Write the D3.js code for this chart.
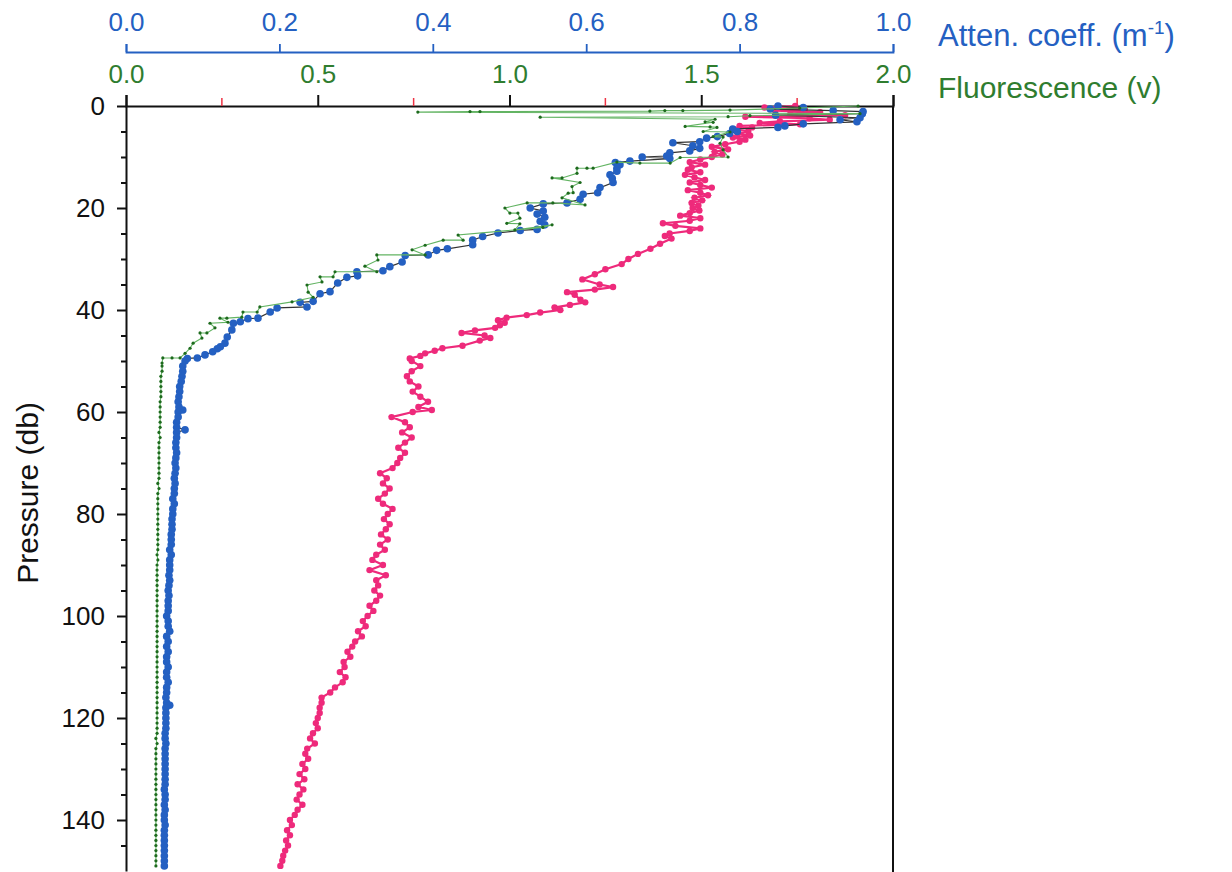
<!DOCTYPE html>
<html>
<head>
<meta charset="utf-8">
<script src="https://cdn.jsdelivr.net/npm/d3@7"></script>
<style>
  html, body { margin: 0; padding: 0; background: #fff; }
  svg { display: block; font-family: "Liberation Sans", Arial, sans-serif; }
</style>
</head>
<body>
<svg id="chart" width="1232" height="872"></svg>
<script>
// ---------------- DATA ----------------
const pressureTicks = [0, 20, 40, 60, 80, 100, 120, 140];
const pressureMinorTicks = [5, 10, 15, 25, 30, 35, 45, 50, 55, 65, 70, 75, 85, 90, 95, 105, 110, 115, 125, 130, 135, 145];
const attenTicks = [0.0, 0.2, 0.4, 0.6, 0.8, 1.0];
const fluorTicks = [0.0, 0.5, 1.0, 1.5, 2.0];
const series3Ticks = [1, 3, 5, 7];

// [pressure (db), attenuation coefficient (1/m)]
const attenProfile = [
[0.0,0.850],[0.3,0.883],[0.6,0.840],[0.9,0.922],[1.1,0.961],[1.5,0.960],[1.8,0.847],[2.3,0.957],[2.7,0.931],[3.1,0.953],
[3.5,0.883],[3.9,0.859],[4.2,0.850],[4.5,0.791],[5.0,0.797],[5.4,0.787],[6.0,0.771],[6.3,0.757],[7.0,0.748],[7.2,0.713],
[7.8,0.739],[8.3,0.748],[8.8,0.735],[9.2,0.709],[9.8,0.705],[10.0,0.673],[10.3,0.709],[10.8,0.657],[11.1,0.638],[11.5,0.644],
[12.2,0.640],[12.8,0.640],[13.5,0.631],[14.2,0.634],[15.0,0.635],[16.0,0.618],[17.0,0.615],[17.3,0.596],[18.3,0.592],[19.0,0.575],
[19.2,0.544],[20.0,0.527],[20.6,0.544],[21.2,0.536],[21.8,0.546],[22.6,0.540],[23.3,0.546],[24.2,0.536],[24.4,0.514],[24.9,0.485],
[25.6,0.465],[26.3,0.452],[27.2,0.452],[28.0,0.419],[28.3,0.405],[29.2,0.394],[29.3,0.364],[30.6,0.360],[31.5,0.344],[32.3,0.335],
[32.5,0.301],[33.3,0.302],[33.6,0.288],[34.7,0.276],[36.4,0.266],[36.8,0.253],[38.3,0.244],[38.5,0.227],[39.4,0.236],[39.6,0.197],
[40.4,0.188],[41.6,0.172],[41.7,0.159],[42.3,0.149],[42.6,0.140],[43.9,0.138],[45.3,0.132],[46.5,0.129],[47.2,0.123],[47.6,0.119],
[48.2,0.113],[48.8,0.103],[49.4,0.093],[49.5,0.080],[50.0,0.077],[51,0.074],[52,0.074],[53,0.073],[54,0.072],[55,0.070],
[56,0.070],[57,0.069],[58,0.068],[59,0.069],[59.6,0.074],[60,0.068],[61,0.068],[62,0.066],[63,0.066],[63.5,0.077],
[64,0.066],[65,0.066],[66,0.065],[67,0.065],[68,0.066],[69,0.065],[70,0.064],[71,0.065],[72,0.064],[73,0.063],
[74,0.064],[75,0.063],[76,0.063],[77,0.061],[78,0.063],[79,0.061],[80,0.061],[81,0.060],[82,0.060],[83,0.060],
[84,0.059],[85,0.059],[86,0.059],[87,0.057],[88,0.059],[89,0.057],[90,0.057],[91,0.057],[92,0.056],[93,0.057],
[94,0.056],[95,0.055],[96,0.056],[97,0.055],[98,0.055],[99,0.055],[100,0.053],[101,0.055],[102,0.055],[103,0.057],
[104,0.053],[105,0.055],[106,0.053],[107,0.055],[108,0.053],[109,0.053],[110,0.055],[111,0.053],[112,0.053],[113,0.055],
[114,0.053],[115,0.053],[116,0.052],[117,0.053],[117.5,0.057],[118,0.052],[119,0.052],[120,0.052],[121,0.052],[122,0.052],
[123,0.051],[124,0.051],[125,0.052],[126,0.051],[127,0.051],[128,0.051],[129,0.051],[130,0.051],[131,0.051],[132,0.051],
[133,0.051],[134,0.050],[135,0.051],[136,0.051],[137,0.050],[138,0.051],[139,0.050],[140,0.050],[141,0.051],[142,0.050],
[143,0.050],[144,0.050],[145,0.050],[146,0.050],[147,0.050],[148,0.050],[149,0.050]
];

// [pressure (db), fluorescence (v)]
const fluorProfile = [
[0.0,1.909],[0.4,1.757],[0.8,1.575],[0.9,1.452],[0.9,1.405],[1.0,1.366],[1.1,0.923],[1.1,0.897],[1.2,0.761],[1.5,1.914],
[1.9,1.627],[2.1,1.570],[2.2,1.080],[2.6,1.536],[3.1,1.510],[3.2,1.531],[4.0,1.458],[4.1,1.523],[4.2,1.541],[5.0,1.505],
[5.1,1.575],[6.0,1.531],[6.1,1.557],[7.3,1.549],[8.6,1.557],[10.0,1.570],[10.1,1.445],[11.2,1.419],[11.2,1.340],[11.0,1.280],
[12.2,1.218],[12.2,1.202],[12.2,1.176],[13.2,1.176],[14.1,1.137],[14.1,1.111],[15.0,1.184],[15.8,1.163],[17.0,1.166],[17.1,1.153],
[18.0,1.137],[19.4,1.197],[19.0,1.113],[19.0,1.046],[20.0,0.988],[21.0,1.001],[21.0,1.022],[22.0,1.027],[23.0,0.993],[23.1,1.027],
[24.3,1.014],[23.3,1.111],[23.8,1.087],[25.3,0.866],[26.3,0.879],[26.3,0.827],[27.3,0.780],[28.2,0.746],[29.2,0.780],[29.2,0.654],
[30.2,0.657],[31.4,0.623],[32.5,0.654],[32.5,0.545],[33.5,0.540],[33.5,0.506],[34.5,0.511],[35.1,0.472],[36.5,0.475],[37.5,0.488],
[38.4,0.433],[39.4,0.349],[40.4,0.342],[40.4,0.305],[41.4,0.302],[41.6,0.263],[41.6,0.245],[42.4,0.266],[42.6,0.219],[43.5,0.232],
[44.5,0.211],[44.5,0.193],[45.5,0.198],[46.5,0.175],[47.5,0.167],[48.5,0.154],[49.4,0.141],[49.4,0.120],[49.4,0.096],[50.4,0.094],
[51,0.094],[52,0.094],[53,0.091],[54,0.091],[55,0.091],[56,0.091],[57,0.091],[58,0.089],[59,0.089],[60,0.089],
[61,0.089],[62,0.089],[63,0.089],[64,0.086],[65,0.089],[66,0.086],[67,0.086],[68,0.086],[69,0.086],[70,0.086],
[71,0.086],[72,0.086],[73,0.086],[74,0.083],[75,0.086],[76,0.083],[77,0.083],[78,0.083],[79,0.083],[80,0.083],
[81,0.083],[82,0.083],[83,0.083],[84,0.083],[85,0.083],[86,0.083],[87,0.083],[88,0.081],[89,0.083],[90,0.081],
[91,0.081],[92,0.081],[93,0.081],[94,0.081],[95,0.081],[96,0.081],[97,0.081],[98,0.081],[99,0.081],[100,0.081],
[101,0.081],[102,0.081],[103,0.081],[104,0.081],[105,0.081],[106,0.081],[107,0.081],[108,0.081],[109,0.081],[110,0.081],
[111,0.081],[112,0.081],[113,0.081],[114,0.081],[115,0.081],[116,0.081],[117,0.081],[118,0.081],[119,0.081],[120,0.081],
[121,0.081],[122,0.081],[123,0.081],[124,0.078],[125,0.081],[126,0.078],[127,0.078],[128,0.078],[129,0.078],[130,0.078],
[131,0.078],[132,0.078],[133,0.078],[134,0.078],[135,0.078],[136,0.078],[137,0.078],[138,0.078],[139,0.078],[140,0.078],
[141,0.078],[142,0.078],[143,0.078],[144,0.078],[145,0.078],[146,0.078],[147,0.078],[148,0.078],[149,0.078]
];

// [pressure (db), third profile (red-tick scale)]
const series3Profile = [
[0.0,6.98],[0.3,6.66],[0.6,7.08],[0.9,6.77],[1.2,7.24],[1.5,6.93],[1.8,7.50],[2.1,6.46],[2.4,7.13],[2.7,7.34],
[3.0,6.82],[3.3,6.61],[3.6,7.03],[3.9,6.40],[4.2,6.53],[4.6,6.35],[5.0,6.49],[5.4,6.38],[5.8,6.51],[6.2,6.33],
[6.6,6.46],[7.0,6.40],[7.5,6.25],[8.0,6.11],[8.5,6.28],[9.0,6.14],[9.5,6.22],[10.0,6.11],[10.5,5.99],[11.0,5.88],
[11.5,6.04],[12.0,5.90],[12.5,5.86],[13.0,5.99],[13.5,5.83],[14.0,5.93],[14.5,6.04],[15.0,5.88],[15.5,5.99],[16.0,6.11],
[16.5,5.86],[17.0,5.99],[17.5,6.07],[18.0,5.93],[18.5,6.01],[19.0,5.90],[19.5,5.97],[20.0,5.91],[20.5,5.98],[21.0,5.88],
[21.5,5.78],[22.0,5.99],[22.5,5.88],[23.0,5.60],[23.5,5.73],[24.0,5.99],[24.5,5.88],[25.0,5.67],[25.5,5.62],[26.0,5.69],
[27.0,5.57],[28.0,5.47],[29.0,5.34],[30.0,5.24],[31.0,5.17],[32.0,5.00],[33.0,4.89],[34.0,4.76],[35.0,4.94],[35.5,5.08],
[36.0,4.89],[36.5,4.60],[37.0,4.68],[38.0,4.74],[38.5,4.79],[39.0,4.63],[39.5,4.47],[40.0,4.53],[40.5,4.32],[41.0,4.18],
[41.5,3.97],[42.0,3.88],[42.5,3.95],[43.0,3.90],[43.5,3.85],[44.0,3.64],[44.5,3.50],[45.0,3.74],[45.5,3.80],[46.0,3.69],
[47.0,3.51],[47.5,3.30],[48.0,3.22],[48.5,3.12],[49.0,3.07],[49.5,2.96],[50.0,2.98],[51,3.07],[52,2.98],[53,2.93],
[54,2.96],[55,3.05],[56,2.99],[57,3.07],[58,3.15],[59,3.05],[59.6,3.19],[60,2.99],[61,2.77],[62,2.91],
[63,2.96],[64,2.88],[65,2.98],[66,2.91],[67,2.84],[68,2.91],[69,2.86],[70,2.83],[71,2.78],[72,2.65],
[73,2.72],[74,2.68],[75,2.75],[76,2.70],[77,2.63],[78,2.68],[79,2.78],[80,2.73],[81,2.69],[82,2.75],
[83,2.71],[84,2.66],[85,2.73],[86,2.65],[87,2.70],[88,2.61],[89,2.57],[90,2.68],[91,2.54],[92,2.71],
[93,2.61],[94,2.63],[95,2.59],[96,2.65],[97,2.61],[98,2.54],[99,2.58],[100,2.52],[101,2.47],[102,2.50],
[103,2.42],[104,2.46],[105,2.39],[106,2.36],[107,2.31],[108,2.34],[109,2.27],[110,2.28],[111,2.23],[112,2.29],
[113,2.26],[114,2.18],[115,2.13],[116,2.04],[117,2.04],[118,2.02],[119,2.02],[120,2.00],[121,1.98],[122,2.00],
[123,1.95],[124,1.92],[125,1.97],[126,1.89],[127,1.87],[128,1.90],[129,1.84],[130,1.87],[131,1.81],[132,1.86],
[133,1.79],[134,1.85],[135,1.81],[136,1.78],[137,1.84],[138,1.79],[139,1.76],[140,1.71],[141,1.73],[142,1.68],
[143,1.71],[144,1.67],[145,1.69],[146,1.66],[147,1.64],[148,1.63],[149,1.61]
];

// ---------------- CHART ----------------
(function () {
const BLUE = "#2460c2";
const GREEN_TXT = "#2f7d2f";
const GREEN_DOT = "#1d6a1d";
const GREEN_LINE = "#63b463";
const PINK = "#ee2a7b";
const RED = "#ee3344";
const FONT = "Liberation Sans, Arial, sans-serif";
const TICK_FS = 26;

const svg = d3.select("#chart");
const pL = 126, pR = 893, pT = 106, pB = 871;

const y = d3.scaleLinear().domain([0, 150]).range([pT, pB]);
const xAtten = d3.scaleLinear().domain([0, 1]).range([pL, pR]);
const xFluor = d3.scaleLinear().domain([0, 2]).range([pL, pR]);
const xS3 = d3.scaleLinear().domain([0, 8]).range([pL, pR]);

// Blue attenuation axis
const gA = svg.append("g").attr("transform", "translate(0,52)")
  .call(d3.axisTop(xAtten).tickValues(attenTicks).tickFormat(d3.format(".1f")).tickSize(8).tickSizeOuter(8).tickPadding(13));
gA.select(".domain").attr("stroke", BLUE).attr("stroke-width", 1.8);
gA.selectAll(".tick line").attr("stroke", BLUE).attr("stroke-width", 1.8);
gA.selectAll(".tick text").attr("fill", BLUE).attr("font-size", TICK_FS).attr("font-family", FONT);

// Fluorescence axis (black line, green labels)
const gF = svg.append("g").attr("transform", `translate(0,${pT})`)
  .call(d3.axisTop(xFluor).tickValues(fluorTicks).tickFormat(d3.format(".1f")).tickSize(11).tickSizeOuter(11).tickPadding(12));
gF.select(".domain").attr("stroke", "#111").attr("stroke-width", 2);
gF.selectAll(".tick line").attr("stroke", "#111").attr("stroke-width", 2);
gF.selectAll(".tick text").attr("fill", GREEN_TXT).attr("font-size", TICK_FS).attr("font-family", FONT);

// red ticks for third profile
svg.append("g").selectAll("line").data(series3Ticks).join("line")
  .attr("x1", d => xS3(d)).attr("x2", d => xS3(d))
  .attr("y1", pT).attr("y2", pT - 8)
  .attr("stroke", RED).attr("stroke-width", 1.5);

// left pressure axis
const gP = svg.append("g").attr("transform", `translate(${pL},0)`)
  .call(d3.axisLeft(y).tickValues(pressureTicks).tickSize(9).tickSizeOuter(0).tickPadding(12));
gP.select(".domain").attr("stroke", "#111").attr("stroke-width", 2);
gP.selectAll(".tick line").attr("stroke", "#111").attr("stroke-width", 2);
gP.selectAll(".tick text").attr("fill", "#111").attr("font-size", TICK_FS).attr("font-family", FONT);
const gPm = svg.append("g").attr("transform", `translate(${pL},0)`)
  .call(d3.axisLeft(y).tickValues(pressureMinorTicks).tickSize(5).tickFormat(""));
gPm.select(".domain").remove();
gPm.selectAll(".tick line").attr("stroke", "#111").attr("stroke-width", 2);

// right frame line
svg.append("line").attr("x1", pR).attr("x2", pR).attr("y1", pT).attr("y2", pB + 2)
  .attr("stroke", "#111").attr("stroke-width", 2);

// third profile (pink)
svg.append("path").datum(series3Profile)
  .attr("fill", "none").attr("stroke", PINK).attr("stroke-width", 2.2)
  .attr("d", d3.line().x(d => xS3(d[1])).y(d => y(d[0])));
svg.append("g").selectAll("circle").data(series3Profile).join("circle")
  .attr("cx", d => xS3(d[1])).attr("cy", d => y(d[0])).attr("r", 3.2)
  .attr("fill", PINK);

// attenuation (blue dots, dark line)
svg.append("path").datum(attenProfile)
  .attr("fill", "none").attr("stroke", "#333").attr("stroke-width", 1.2)
  .attr("d", d3.line().x(d => xAtten(d[1])).y(d => y(d[0])));
svg.append("g").selectAll("circle").data(attenProfile).join("circle")
  .attr("cx", d => xAtten(d[1])).attr("cy", d => y(d[0])).attr("r", 3.8)
  .attr("fill", BLUE);

// fluorescence (green small dots, light green line)
svg.append("path").datum(fluorProfile)
  .attr("fill", "none").attr("stroke", GREEN_LINE).attr("stroke-width", 1.1)
  .attr("d", d3.line().x(d => xFluor(d[1])).y(d => y(d[0])));
svg.append("g").selectAll("circle").data(fluorProfile).join("circle")
  .attr("cx", d => xFluor(d[1])).attr("cy", d => y(d[0])).attr("r", 1.6)
  .attr("fill", GREEN_DOT);

// titles
const tA = svg.append("text").attr("x", 938).attr("y", 46)
  .attr("fill", BLUE).attr("font-size", 31).attr("font-family", FONT);
tA.append("tspan").text("Atten. coeff. (m");
tA.append("tspan").attr("dy", -12).attr("font-size", 19).text("-1");
tA.append("tspan").attr("dy", 12).text(")");

svg.append("text").attr("x", 938).attr("y", 98)
  .attr("fill", GREEN_TXT).attr("font-size", 30).attr("font-family", FONT).text("Fluorescence (v)");

svg.append("text").attr("transform", "translate(38,493) rotate(-90)")
  .attr("text-anchor", "middle").attr("fill", "#111").attr("font-size", 30).attr("font-family", FONT)
  .text("Pressure (db)");
})();
</script>
</body>
</html>
